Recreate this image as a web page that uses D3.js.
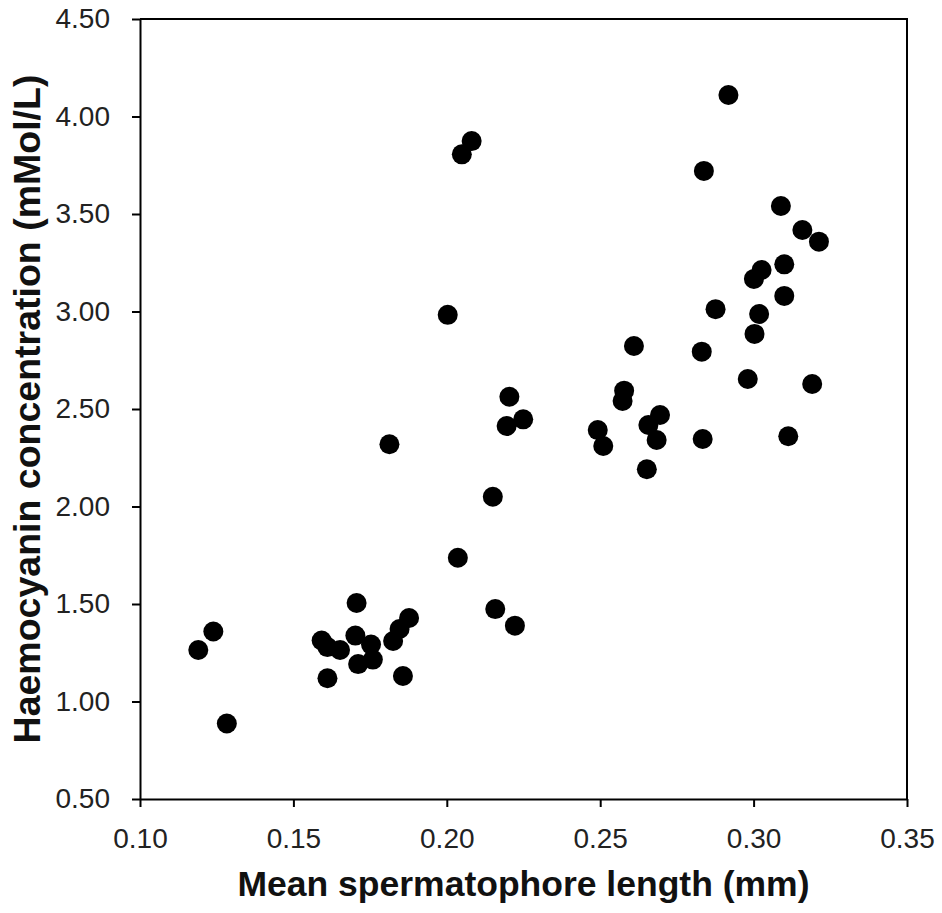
<!DOCTYPE html>
<html>
<head>
<meta charset="utf-8">
<script src="https://cdn.jsdelivr.net/npm/d3@7"></script>
<style>
  body { margin: 0; background: #fff; }
  svg { display: block; }
</style>
</head>
<body>
<svg id="chart"></svg>
<script>
// mean spermatophore length (mm)
const lengths = [
  0.1190, 0.1239, 0.1283, 0.1592, 0.1611, 0.1652, 0.1706, 0.1702, 0.1753, 0.1759,
  0.1711, 0.1611, 0.1825, 0.1846, 0.1877, 0.1857,
  0.1813, 0.2150, 0.2036, 0.2158, 0.2222,
  0.2204, 0.2249, 0.2195,
  0.2081, 0.2049, 0.2003,
  0.2610, 0.2578, 0.2573, 0.2695, 0.2657, 0.2684, 0.2492, 0.2510, 0.2652,
  0.2918, 0.2838, 0.3089, 0.3159, 0.3213, 0.3100, 0.3026, 0.3001, 0.3100, 0.2876,
  0.3018, 0.3003, 0.2831, 0.2981, 0.3191, 0.2834, 0.3113
];
// haemocyanin concentration (mMol/L)
const haemocyanin = [
  1.264, 1.359, 0.887, 1.313, 1.279, 1.264, 1.505, 1.338, 1.292, 1.215,
  1.192, 1.119, 1.310, 1.372, 1.428, 1.131,
  2.319, 2.050, 1.737, 1.474, 1.389,
  2.563, 2.447, 2.413,
  3.874, 3.806, 2.983,
  2.823, 2.594, 2.541, 2.469, 2.418, 2.341, 2.392, 2.310, 2.191,
  4.110, 3.721, 3.541, 3.418, 3.358, 3.242, 3.213, 3.167, 3.080, 3.012,
  2.987, 2.885, 2.794, 2.654, 2.628, 2.346, 2.360
];
const xTicks = [0.10, 0.15, 0.20, 0.25, 0.30, 0.35];
const yTicks = [0.50, 1.00, 1.50, 2.00, 2.50, 3.00, 3.50, 4.00, 4.50];

const config = {
  width: 942,
  height: 913,
  margin: {top: 19, right: 35, bottom: 114, left: 140}
};

const svg = d3.select('#chart')
    .attr('width', config.width)
    .attr('height', config.height);

const innerW = config.width - config.margin.left - config.margin.right;
const innerH = config.height - config.margin.top - config.margin.bottom;

const chart = svg.append('g')
    .attr('transform', `translate(${config.margin.left}, ${config.margin.top})`);

const xscale = d3.scaleLinear().domain([0.10, 0.35]).range([0, innerW]);
const yscale = d3.scaleLinear().domain([0.50, 4.50]).range([innerH, 0]);

const xaxis = d3.axisBottom(xscale)
    .tickValues(xTicks)
    .tickFormat(d3.format('.2f'))
    .tickSize(8)
    .tickSizeOuter(0)
    .tickPadding(21);

const yaxis = d3.axisLeft(yscale)
    .tickValues(yTicks)
    .tickFormat(d3.format('.2f'))
    .tickSize(8)
    .tickSizeOuter(0)
    .tickPadding(22);

// frame (top and right sides)
chart.append('path')
    .attr('d', `M0,0H${innerW}V${innerH}`)
    .attr('fill', 'none')
    .attr('stroke', '#000')
    .attr('stroke-width', 2);

const xg = chart.append('g')
    .attr('transform', `translate(0,${innerH})`)
    .call(xaxis);

const yg = chart.append('g')
    .call(yaxis);

[xg, yg].forEach(g => {
  g.selectAll('path, line').attr('stroke', '#000').attr('stroke-width', 2);
  g.selectAll('text')
      .attr('fill', '#222')
      .style('font-family', 'Liberation Sans, Arial, sans-serif')
      .style('font-size', '28px');
});

chart.selectAll('circle')
    .data(lengths.map((d, i) => ({x: d, y: haemocyanin[i]})))
    .enter()
    .append('circle')
    .attr('cx', d => xscale(d.x))
    .attr('cy', d => yscale(d.y))
    .attr('r', 10)
    .attr('fill', '#000');

svg.append('text')
    .attr('x', config.margin.left + innerW / 2)
    .attr('y', 896)
    .attr('text-anchor', 'middle')
    .style('font-family', 'Liberation Sans, Arial, sans-serif')
    .style('font-size', '35.5px')
    .style('font-weight', 'bold')
    .attr('fill', '#111')
    .text('Mean spermatophore length (mm)');

svg.append('text')
    .attr('transform', `translate(40, ${config.margin.top + innerH / 2}) rotate(-90)`)
    .attr('text-anchor', 'middle')
    .style('font-family', 'Liberation Sans, Arial, sans-serif')
    .style('font-size', '37.5px')
    .style('font-weight', 'bold')
    .attr('fill', '#111')
    .text('Haemocyanin concentration (mMol/L)');
</script>
</body>
</html>
